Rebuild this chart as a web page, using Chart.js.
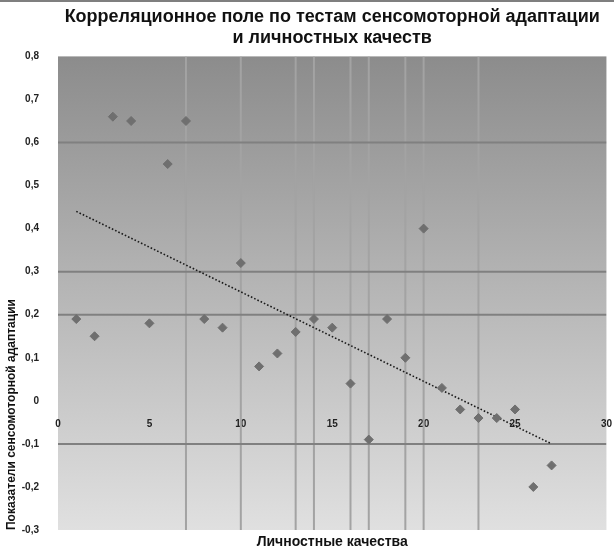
<!DOCTYPE html>
<html lang="ru">
<head>
    <meta charset="UTF-8">
    <title>Корреляционное поле</title>
    <script src="https://cdn.jsdelivr.net/npm/chart.js"></script>
    <style>
        body {
            margin: 0;
            padding: 0;
            background: #fff;
        }
        .chart-box {
            width: 614px;
            height: 545px;
            border-top: 2px solid #7f7f7f;
        }
    </style>
</head>
<body>
    <div class="chart-box">
        <canvas id="corrChart"></canvas>
    </div>

    <script>
        // данные
        const xValues = [1, 2, 3, 4, 5, 6, 7, 8, 9, 10, 11, 12, 13, 14, 15, 16, 17, 18, 19, 20, 21, 22, 23, 24, 25, 26, 27];
        const yValues = [0.19, 0.15, 0.66, 0.65, 0.18, 0.55, 0.65, 0.19, 0.17, 0.32, 0.08, 0.11, 0.16, 0.19, 0.17, 0.04, -0.09, 0.19, 0.10, 0.40, 0.03, -0.02, -0.04, -0.04, -0.02, -0.20, -0.15];

        // линия тренда (концы)
        const trendX = [1, 27];
        const trendY = [0.44, -0.10];

        // вертикальные и горизонтальные линии
        const vLineX = [7, 10, 13, 14, 16, 17, 19, 20, 23];
        const hLineY = [0.6, 0.3, 0.2, -0.1];

        // оси
        const xMin = 0, xMax = 30, xStep = 5;
        const yMin = -0.3, yMax = 0.8, yStep = 0.1;

        const titleLines = ['Корреляционное поле по тестам сенсомоторной адаптации', 'и личностных качеств'];
        const yTitle = 'Показатели сенсомоторной адаптации';
        const xTitle = 'Личностные качества';

        const fontFamily = "'Liberation Sans', Arial, sans-serif";

        // фон области построения - градиент
        const plotBg = {
            id: 'plotBg',
            beforeDraw(chart) {
                const { ctx, chartArea: a } = chart;
                const g = ctx.createLinearGradient(0, a.top, 0, a.bottom);
                g.addColorStop(0, '#8c8c8c');
                g.addColorStop(1, '#e0e0e0');
                ctx.save();
                ctx.fillStyle = g;
                ctx.fillRect(a.left, a.top, a.width, a.height);
                ctx.restore();
            }
        };

        const datasets = [];

        datasets.push({
            label: 'точки',
            data: xValues.map((x, i) => ({ x: x, y: yValues[i] })),
            pointStyle: 'rectRot',
            pointRadius: 4.5,
            backgroundColor: '#6f6f6f',
            borderColor: '#6f6f6f',
            borderWidth: 1,
            showLine: false,
            order: 0
        });

        datasets.push({
            label: 'тренд',
            data: trendX.map((x, i) => ({ x: x, y: trendY[i] })),
            showLine: true,
            pointRadius: 0,
            borderColor: '#1a1a1a',
            borderWidth: 1.6,
            borderDash: [1.6, 2],
            order: 1
        });

        hLineY.forEach(y => {
            datasets.push({
                data: [{ x: xMin, y: y }, { x: xMax, y: y }],
                showLine: true,
                pointRadius: 0,
                borderColor: '#808080',
                borderWidth: 2,
                order: 2
            });
        });

        vLineX.forEach(x => {
            datasets.push({
                data: [{ x: x, y: yMin }, { x: x, y: yMax }],
                showLine: true,
                pointRadius: 0,
                borderColor: '#a3a3a3',
                borderWidth: 2,
                order: 3
            });
        });

        new Chart(document.getElementById('corrChart'), {
            type: 'scatter',
            data: { datasets: datasets },
            plugins: [plotBg],
            options: {
                responsive: true,
                maintainAspectRatio: false,
                animation: false,
                layout: { padding: { top: 0, right: 0, bottom: 0, left: 0 } },
                plugins: {
                    legend: { display: false },
                    tooltip: { enabled: false },
                    title: {
                        display: true,
                        text: titleLines,
                        fullSize: false,
                        color: '#111',
                        font: { family: fontFamily, size: 18, weight: 'bold', lineHeight: 1.15 },
                        padding: { top: 5, bottom: 8 }
                    }
                },
                scales: {
                    x: {
                        type: 'linear',
                        position: 'bottom',
                        min: xMin,
                        max: xMax,
                        grid: { display: false, drawTicks: false },
                        border: { display: false },
                        ticks: { display: false },
                        title: {
                            display: true,
                            text: xTitle,
                            color: '#111',
                            font: { family: fontFamily, size: 14, weight: 'bold', lineHeight: 1 },
                            padding: { top: 0, bottom: -2 }
                        },
                        afterFit(scale) { scale.height = 17; }
                    },
                    x2: {
                        type: 'linear',
                        axis: 'x',
                        position: { y: 0 },
                        min: xMin,
                        max: xMax,
                        // засечки не рисуются, их длина только сдвигает подписи
                        grid: { display: false, drawTicks: true, tickLength: 15 },
                        border: { display: false },
                        ticks: {
                            stepSize: xStep,
                            padding: 2,
                            color: '#222',
                            font: { family: fontFamily, size: 10, weight: 'bold' }
                        }
                    },
                    y: {
                        type: 'linear',
                        min: yMin,
                        max: yMax,
                        grid: { display: false, drawTicks: true, tickLength: 17 },
                        border: { display: false },
                        ticks: {
                            stepSize: yStep,
                            padding: 2,
                            color: '#222',
                            font: { family: fontFamily, size: 10, weight: 'bold' },
                            callback: v => {
                                const r = Math.round(v * 10) / 10;
                                return r === 0 ? '0' : r.toFixed(1).replace('.', ',');
                            }
                        },
                        title: {
                            display: true,
                            text: yTitle,
                            align: 'start',
                            color: '#111',
                            font: { family: fontFamily, size: 12, weight: 'bold' },
                            padding: { top: 4, bottom: 4 }
                        },
                        afterFit(scale) { scale.width = 58; }
                    }
                }
            }
        });
    </script>
</body>
</html>
